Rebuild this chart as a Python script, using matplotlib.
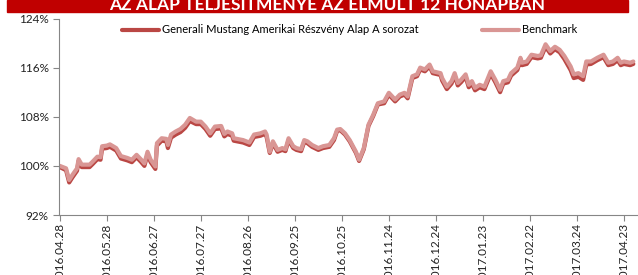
import matplotlib
matplotlib.use("Agg")
import matplotlib.pyplot as plt
import matplotlib.dates as mdates
from matplotlib.patches import Rectangle
import datetime as dt

plt.rcParams['font.family'] = ['Lato', 'DejaVu Sans']

# napok a 2016.04.28-i kezdéstől, és az indexált értékek (%)
days = [0, 4, 6, 8, 11, 12, 14, 19, 21, 24, 26, 27, 30, 32, 36, 39, 43, 46, 49, 52,
        54, 56, 58, 61, 62, 65, 68, 69, 71, 74, 77, 80, 83, 87, 90, 93, 96, 99, 103, 105,
        107, 110, 111, 117, 121, 124, 128, 131, 132, 134, 136, 139, 142, 144, 146, 149, 151, 154, 156, 158,
        161, 165, 168, 172, 175, 177, 179, 182, 185, 189, 191, 194, 197, 200, 203, 207, 210, 214, 217, 220,
        222, 225, 228, 230, 233, 236, 238, 243, 244, 247, 250, 252, 254, 256, 259, 261, 263, 265, 268, 271,
        275, 278, 281, 283, 286, 288, 292, 294, 295, 298, 301, 305, 307, 310, 313, 316, 319, 322, 326, 328,
        331, 334, 336, 339, 343, 347, 350, 353, 356, 358, 360, 364, 366]
benchmark = [100.0, 99.6, 97.7, 98.5, 99.6, 101.1, 100.2, 100.2, 100.7, 101.5, 101.4, 103.2, 103.3, 103.5, 102.9, 101.6, 101.3, 101.0, 101.8, 101.0,
             100.4, 102.3, 101.0, 99.9, 103.7, 104.5, 104.4, 103.4, 105.1, 105.6, 106.0, 106.7, 107.8, 107.2, 107.2, 106.4, 105.3, 106.4, 106.5, 105.2,
             105.6, 105.3, 104.5, 104.2, 103.8, 105.1, 105.3, 105.6, 105.1, 102.3, 104.0, 102.6, 102.9, 102.7, 104.5, 103.2, 102.9, 102.7, 104.2, 104.0,
             103.4, 102.9, 103.2, 103.4, 104.5, 105.9, 106.0, 105.3, 104.2, 102.3, 101.0, 102.9, 106.7, 108.3, 110.2, 110.5, 111.9, 110.8, 111.6, 111.9,
             111.3, 114.6, 114.9, 116.0, 115.7, 116.5, 115.4, 115.1, 114.3, 112.9, 113.8, 115.1, 113.5, 114.0, 114.9, 113.2, 113.8, 112.7, 113.2, 112.9,
             115.4, 114.0, 112.4, 113.8, 114.0, 115.1, 116.0, 117.6, 116.8, 117.0, 118.1, 117.9, 118.0, 119.8, 118.7, 119.4, 118.9, 117.9, 116.2, 114.9,
             115.1, 114.6, 117.0, 117.0, 117.6, 118.1, 116.8, 117.0, 117.6, 116.8, 117.0, 116.8, 117.0]
fund = [99.8, 99.3, 97.3, 98.1, 99.2, 100.8, 99.8, 99.8, 100.3, 101.1, 101.0, 102.8, 102.9, 103.1, 102.5, 101.2, 100.9, 100.6, 101.4, 100.6,
        100.0, 101.9, 100.6, 99.5, 103.3, 104.1, 104.0, 102.9, 104.6, 105.1, 105.5, 106.2, 107.3, 106.8, 106.8, 106.0, 104.9, 106.0, 106.1, 104.8,
        105.2, 104.9, 104.1, 103.8, 103.4, 104.7, 104.9, 105.2, 104.7, 102.1, 103.7, 102.3, 102.6, 102.4, 104.2, 102.9, 102.6, 102.4, 103.9, 103.7,
        103.1, 102.6, 102.9, 103.1, 104.2, 105.7, 105.8, 105.1, 104.0, 102.1, 100.8, 102.7, 106.5, 108.1, 110.0, 110.2, 111.6, 110.5, 111.3, 111.6,
        111.0, 114.3, 114.6, 115.7, 115.4, 116.2, 115.1, 114.8, 113.9, 112.5, 113.4, 114.7, 113.1, 113.6, 114.5, 112.8, 113.4, 112.3, 112.8, 112.5,
        115.0, 113.6, 112.0, 113.4, 113.6, 114.7, 115.6, 117.2, 116.4, 116.6, 117.7, 117.5, 117.6, 119.4, 118.3, 119.0, 118.5, 117.4, 115.6, 114.3,
        114.5, 114.0, 116.5, 116.6, 117.2, 117.7, 116.4, 116.6, 117.2, 116.4, 116.6, 116.4, 116.6]

start = dt.date(2016, 4, 28)
tick_step = 30
n_ticks = 13
series_names = ['Generali Mustang Amerikai Részvény Alap A sorozat', 'Benchmark']
title = 'AZ ALAP TELJESÍTMÉNYE AZ ELMÚLT 12 HÓNAPBAN'

dates = [start + dt.timedelta(days=d) for d in days]
ticks = [start + dt.timedelta(days=tick_step * i) for i in range(n_ticks)]

fig = plt.figure(figsize=(6.38, 2.75), dpi=100)
ax = fig.add_axes([59 / 638, 60 / 275, 1 - 59 / 638, (215 - 18.5) / 275])

ax.plot(dates, fund, color='#BA4744', lw=3.0, label=series_names[0], solid_capstyle='round')
ax.plot(dates, benchmark, color='#D99694', lw=3.0, label=series_names[1], solid_capstyle='round')

ax.set_ylim(92, 124)
ax.set_yticks([92, 100, 108, 116, 124])
ax.set_yticklabels(['92%', '100%', '108%', '116%', '124%'])
ax.set_xlim(mdates.date2num(start) - 0.5, mdates.date2num(start) + 369)
ax.set_xticks(ticks)
ax.xaxis.set_major_formatter(mdates.DateFormatter('%Y.%m.%d'))
for lab in ax.get_xticklabels():
    lab.set_rotation(90)

ax.tick_params(axis='both', colors='#868686', labelcolor='#222222', labelsize=8.5, length=4, width=0.8)
ax.tick_params(axis='x', pad=2)
for s in ['top', 'right']:
    ax.spines[s].set_visible(False)
for s in ['left', 'bottom']:
    ax.spines[s].set_color('#868686')
    ax.spines[s].set_linewidth(0.8)

leg = ax.legend(loc='upper left', bbox_to_anchor=(118 / 638, 1 - 20 / 275),
                bbox_transform=fig.transFigure, borderaxespad=0, ncol=2, frameon=False,
                fontsize=8, handlelength=3.3, handletextpad=0.3, columnspacing=5.7)

# piros fejléc sáv
fig.patches.append(Rectangle((7 / 638, 1 - 12 / 275), 621 / 638, 12 / 275,
                             transform=fig.transFigure, color='#C00000', zorder=0))
fig.text(327 / 638, 1 - 9.5 / 275, title, color='white', fontsize=12.5, fontweight='bold',
         ha='center', va='baseline')

fig.savefig('out.png', dpi=100)
